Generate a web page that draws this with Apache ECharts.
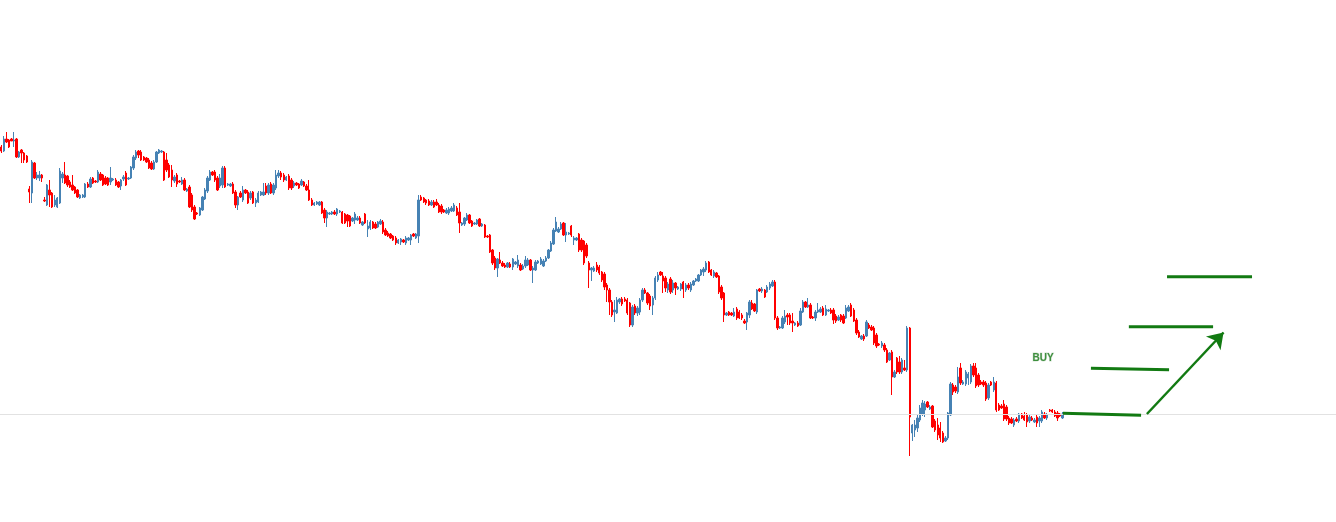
<!DOCTYPE html>
<html>
<head>
<meta charset="utf-8">
<script src="https://cdn.jsdelivr.net/npm/echarts@6/dist/echarts.min.js"></script>
<style>
html,body{margin:0;padding:0;background:#fff;}
#chart{width:1336px;height:522px;}
</style>
</head>
<body>
<div id="chart"></div>
<script>
// Candles: [open, close, low, high] in chart price units
const ohlc = [
[375,371,369,377],[371,383,370,386],[383,380,379,390],[382,375,374,383],[383,381,381,384],[381,382,375,390],[383,365,364,384],[365,370,364,371],[372,369,359,373],[369,362,359,370],
[366,360,359,367],[333,330,319,336],[329,360,319,362],[359,344,343,360],[344,347,342,350],[344,347,341,351],[347,344,340,348],[322,321,320,325],[317,337,316,338],[332,327,315,342],
[329,315,314,330],[317,322,315,327],[315,324,314,325],[319,351,318,354],[344,348,339,350],[347,339,338,360],[346,337,335,347],[340,335,334,342],[337,332,331,347],[335,329,328,336],
[332,325,324,333],[324,327,323,328],[325,327,324,328],[325,338,324,339],[338,335,334,340],[335,343,334,345],[344,339,338,345],[341,340,339,342],[340,350,339,352],[348,342,341,350],
[347,337,336,348],[344,338,337,346],[344,337,336,345],[340,344,337,355],[342,343,341,344],[342,337,336,344],[340,335,334,341],[336,342,332,343],[343,345,341,347],[349,337,336,351],
[343,344,342,345],[344,355,343,356],[354,365,352,367],[364,370,362,372],[371,367,364,372],[370,362,361,372],[365,362,361,366],[364,360,359,365],
[362,354,353,364],[359,353,352,361],[353,360,352,362],[360,370,359,371],[369,372,368,373],[370,371,369,372],[370,342,341,371],[362,352,350,369],[357,345,344,359],[352,342,335,357],
[341,345,339,347],[347,338,335,349],[341,340,339,342],[338,342,337,345],[342,332,331,344],[331,333,330,334],[335,315,314,337],[327,312,310,329],[315,303,302,317],[309,308,307,310],
[307,314,306,315],[312,325,311,326],[323,332,322,334],[331,344,329,346],[342,350,341,352],[350,347,346,351],[350,342,340,352],[344,332,331,346],[336,344,334,348],[337,354,334,356],
[354,335,334,356],[337,338,336,339],[336,338,335,339],[338,329,328,340],[330,317,314,332],[317,325,312,326],[329,325,324,331],[322,332,320,336],[332,329,328,333],[330,319,318,332],
[324,329,322,331],[330,319,318,331],[319,322,315,324],[320,329,319,331],[327,330,326,331],[327,330,326,339],[336,329,327,339],[329,337,327,339],[338,329,328,340],[329,337,327,339],
[334,347,332,352],[346,349,344,352],[349,345,342,351],[347,342,340,349],[342,345,341,346],[346,334,332,348],[342,334,332,344],[336,339,334,341],
[339,337,336,340],[338,334,333,339],[337,341,336,343],[340,336,335,341],[336,332,331,338],[332,322,321,342],[322,317,316,324],[317,319,316,320],[318,320,317,321],[317,320,316,321],
[320,309,308,321],[312,304,299,314],[304,310,295,312],[308,309,307,310],[308,310,307,311],[310,308,307,312],[308,313,306,314],[310,311,309,312],[310,299,298,311],[308,299,298,309],
[307,301,295,308],[306,296,295,307],[301,304,300,305],[302,308,298,310],[302,304,301,306],[304,299,298,306],[297,300,296,301],[308,299,298,309],[293,296,285,302],[294,300,292,302],
[300,294,293,301],[298,294,293,300],[295,300,294,301],[298,301,297,303],[300,290,288,302],[292,287,286,294],[289,286,285,291],[288,284,283,289],[286,282,281,287],[284,279,277,286],
[279,282,278,283],[280,283,277,284],[282,280,279,283],[279,284,277,286],[282,284,281,285],[282,287,277,288],[288,286,285,289],[284,288,283,289],[286,322,279,327],[325,322,321,327],
[324,320,319,325],[322,319,317,323],[321,317,316,323],[317,320,316,322],[320,315,314,322],[320,317,316,323],[317,310,309,319],[316,310,308,318],[312,310,309,313],[309,312,308,314],
[309,313,307,315],[311,314,310,316],[311,317,310,319],[314,307,306,316],
[310,299,289,319],[297,299,296,300],[298,304,296,305],[302,307,301,309],[307,299,298,308],[301,296,295,302],[298,299,297,300],[298,302,297,303],[303,296,295,304],[296,298,295,299],
[297,285,284,298],[286,285,284,287],[287,270,269,288],[272,259,257,273],[264,254,252,266],[254,263,245,264],[262,259,258,270],[259,256,255,261],[257,255,254,259],[255,259,254,260],
[258,255,254,260],[255,263,252,264],[258,260,257,261],[256,262,254,267],[257,252,251,259],[253,256,252,258],[256,262,254,266],[257,262,256,264],[262,252,251,263],[252,254,239,256],
[252,260,251,262],[259,261,258,262],[258,263,257,265],[256,261,255,263],[261,264,260,266],[264,272,263,273],[271,279,270,281],[278,292,277,294],[291,300,290,305],[290,293,289,295],
[293,298,292,300],[299,287,286,300],[287,290,280,299],[288,289,287,290],[296,287,285,297],[282,284,277,286],[282,284,281,285],[288,272,270,289],[282,272,270,284],[281,259,257,282],
[277,266,264,279],[259,252,234,261],[252,254,241,255],[251,254,250,256],[257,252,250,260],[255,249,247,257],[250,242,240,251],[248,235,232,250],[237,232,220,239],
[232,220,207,234],[220,207,205,222],[210,212,200,222],[209,222,208,225],[220,223,218,224],[223,218,216,225],[223,221,220,225],[222,209,207,224],[219,197,195,220],[197,215,195,217],
[216,209,207,218],[209,214,206,216],[210,222,207,224],[222,232,220,234],[232,229,228,234],[229,219,217,230],[226,216,212,228],[217,224,207,226],[224,244,222,246],[242,247,240,250],
[250,247,246,251],[246,241,229,250],[244,234,230,246],[232,238,229,240],[243,230,228,245],[232,239,229,242],[239,234,227,240],[233,235,232,236],[233,238,231,239],[240,233,224,241],
[232,237,230,239],[237,234,232,239],[232,238,230,240],[237,241,236,242],[241,243,240,244],[241,247,240,248],[247,252,246,253],[250,253,246,255],[252,259,250,261],[260,250,249,261],
[252,247,246,253],[246,250,244,252],[249,245,244,250],[246,230,228,247],[235,224,222,237],[229,207,200,230],[207,209,206,210],[210,207,206,211],[209,207,206,210],[206,210,205,214],
[213,204,202,215],[210,204,203,212],[207,204,202,209],[201,199,198,203],[200,209,192,210],[207,220,204,222],[219,213,212,222],[218,211,210,219],[210,232,208,233],[233,231,230,234],
[231,233,229,235],[232,225,224,233],[230,235,229,237],[234,238,232,240],[236,240,235,242],
[240,204,202,242],[204,194,192,206],[194,195,193,196],[194,204,193,206],[200,206,198,212],[207,205,197,209],[207,199,197,209],[201,199,190,209],[197,199,196,200],[199,196,195,201],
[197,211,196,214],[210,220,209,222],[220,215,214,221],[215,217,214,224],[217,204,203,219],[205,204,203,206],[204,210,201,212],[210,212,209,219],[210,213,209,215],[214,207,206,216],
[207,213,206,217],[211,212,210,213],[212,209,208,214],[212,202,198,214],[206,201,199,208],[202,205,201,207],[207,202,200,208],[206,199,198,208],[204,214,203,217],[211,215,210,217],
[217,206,205,219],[212,201,200,214],[202,189,187,204],[190,185,184,192],[183,186,182,187],[186,183,181,188],[186,200,185,202],[197,194,193,199],[195,192,191,197],[194,179,177,196],
[187,176,174,189],[178,177,176,179],[176,179,174,181],[177,172,170,179],[172,160,159,174],[162,169,161,170],[170,145,127,172],[145,150,144,152],[164,150,148,165],[160,150,148,166],
[150,162,148,164],[154,152,151,162],[152,194,150,196],
[194,105,66,195],[89,97,81,98],[92,97,85,102],[94,104,90,107],[102,114,100,117],[108,119,106,122],[112,118,105,121],[120,115,114,121],[113,115,112,117],[116,95,94,117],
[101,92,90,103],[97,87,82,104],[94,84,80,100],[89,80,79,91],[81,84,80,86],[84,109,82,110],[107,138,106,140],[137,130,127,139],[135,131,129,137],[130,145,128,155],
[154,139,137,159],[138,140,137,142],[138,150,136,152],[144,148,137,150],[140,156,138,158],[156,147,145,159],[154,136,134,159],[147,137,135,149],[140,138,137,142],[140,137,135,142],
[139,123,121,141],[124,137,122,139],[140,137,136,141],[132,140,130,145],[139,112,110,141],[117,112,111,119],[116,114,113,118],[118,103,101,122],[115,103,101,117],[104,99,97,106],
[103,99,98,105],[97,102,95,104],[103,101,100,105],[101,108,99,109],[108,104,103,109],[106,102,101,110],[107,100,95,109],[101,105,99,108],[104,102,101,106],[100,102,99,104],
[105,99,95,107],[101,104,95,106],[101,110,99,112],[108,104,103,110],[104,107,102,109],[112,111,110,113],[112,110,109,113],[110,106,105,112],[109,104,101,111],[108,106,105,109],
[104,108,103,110]
];

const totalSlots = 525;          // bar slots across the full width (incl. empty future area)
const referencePrice = 108;      // thin grey horizontal line
// Green target levels (bar-index units / price units)
const levelStartBar   = [417.2, 428.2, 443.1, 458.1];
const levelEndBar     = [447.9, 458.9, 476.2, 491.5];
const levelStartPrice = [108.7, 153.7, 195.3, 245.3];
const levelEndPrice   = [106.7, 152.3, 195.3, 245.3];
const arrowFrom = [450.2, 108];
const arrowTo   = [480.3, 189.5];
const buyLabel  = {text: 'BUY', bar: 409.4, price: 164.2};

const categories = Array.from({length: totalSlots}, (_, i) => String(i + 1));

const chart = echarts.init(document.getElementById('chart'), null, {renderer: 'canvas'});
const green = '#127a12';

const levelSeries = levelStartBar.map((s, k) => ({
  type: 'line',
  xAxisIndex: 1, yAxisIndex: 0,
  silent: true,
  symbol: 'none',
  z: 5,
  lineStyle: {color: green, width: 3},
  data: [[s, levelStartPrice[k]], [levelEndBar[k], levelEndPrice[k]]]
}));

chart.setOption({
  animation: false,
  backgroundColor: '#ffffff',
  grid: {left: 0, right: 0, top: 0, bottom: 0},
  xAxis: [
    {type: 'category', data: categories, show: false, boundaryGap: true},
    {type: 'value', min: -0.5, max: totalSlots - 0.5, show: false}
  ],
  yAxis: [{type: 'value', min: 0, max: 522, show: false}],
  series: [
    {
      type: 'candlestick',
      xAxisIndex: 0,
      data: ohlc,
      barWidth: 1.9,
      itemStyle: {
        color: '#4682b4', color0: '#ff0000',
        borderColor: '#4682b4', borderColor0: '#ff0000',
        borderWidth: 1
      },
      markLine: {
        silent: true, symbol: 'none', label: {show: false},
        lineStyle: {color: '#e2e2e2', width: 1, type: 'solid'},
        data: [{yAxis: referencePrice}]
      }
    },
    ...levelSeries,
    {
      type: 'lines',
      coordinateSystem: 'cartesian2d',
      xAxisIndex: 1, yAxisIndex: 0,
      silent: true,
      z: 5,
      lineStyle: {color: green, width: 2.5, opacity: 1},
      symbol: ['none', 'arrow'],
      symbolSize: [12, 15],
      data: [{coords: [arrowFrom, arrowTo]}]
    },
    {
      type: 'scatter',
      xAxisIndex: 1, yAxisIndex: 0,
      silent: true,
      z: 6,
      symbolSize: 1,
      itemStyle: {color: 'rgba(0,0,0,0)'},
      data: [[buyLabel.bar, buyLabel.price]],
      label: {
        show: true, position: 'inside', formatter: buyLabel.text,
        color: '#157815', fontSize: 10, fontWeight: 'bold',
        fontFamily: 'Liberation Sans, Arial, sans-serif',
        textBorderColor: 'rgba(190,210,190,0.8)', textBorderWidth: 1
      }
    }
  ]
});
</script>
</body>
</html>
